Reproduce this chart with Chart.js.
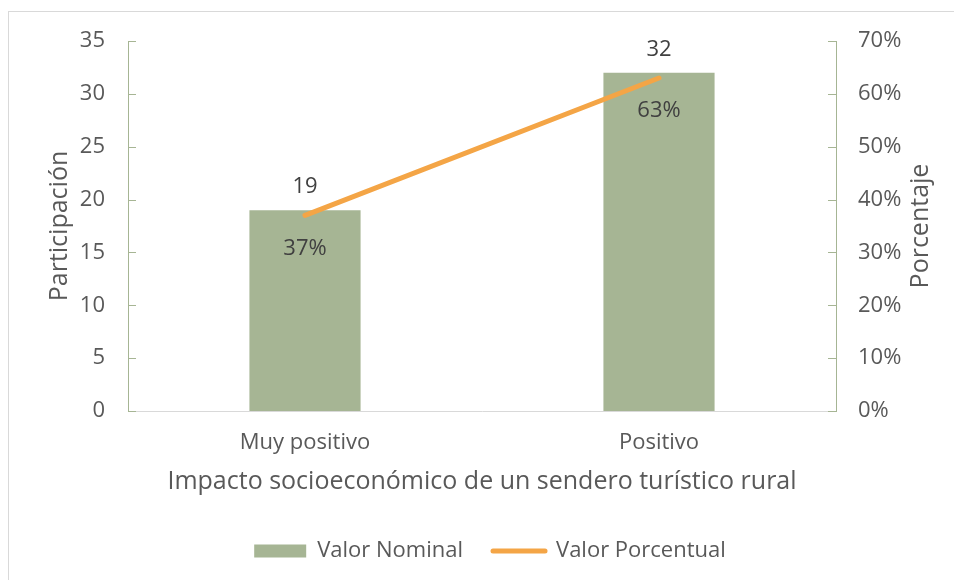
<!DOCTYPE html>
<html>
<head>
<meta charset="utf-8">
<script src="https://cdn.jsdelivr.net/npm/chart.js@4"></script>
<style>
  html, body { margin: 0; padding: 0; background: #fff; }
  #wrap { width: 954px; height: 580px; }
</style>
</head>
<body>
<div id="wrap"><canvas id="chart" width="954" height="580"></canvas></div>
<script>
// data
const categories = ["Muy positivo", "Positivo"]
const nominalValues = [19, 32]
const percentValues = [37, 63]
const leftTicks = [0, 5, 10, 15, 20, 25, 30, 35]
const rightTicks = [0, 10, 20, 30, 40, 50, 60, 70]

const GREEN = "#A6B594"
const ORANGE = "#F4A546"
const TEXT = "#595959"
const FONT = "'Open Sans', sans-serif"

// frame, inward ticks, data labels and the right axis title
const extras = {
  id: "extras",
  beforeDraw(chart) {
    const ctx = chart.ctx
    ctx.save()
    ctx.fillStyle = "#fff"
    ctx.fillRect(0, 0, chart.width, chart.height)
    ctx.strokeStyle = "#D9D9D9"
    ctx.lineWidth = 1
    ctx.strokeRect(8.5, 11.5, chart.width + 20, chart.height + 20)
    ctx.restore()
  },
  afterDatasetsDraw(chart) {
    const ctx = chart.ctx
    ctx.save()
    ctx.font = "22px " + FONT
    ctx.fillStyle = "#404040"
    ctx.textAlign = "center"
    ctx.textBaseline = "middle"
    chart.getDatasetMeta(0).data.forEach((el, i) => {
      ctx.fillText(String(nominalValues[i]), el.x, el.y - 23)
    })
    chart.getDatasetMeta(1).data.forEach((el, i) => {
      ctx.fillText(percentValues[i] + "%", el.x, el.y + 33)
    })
    ctx.restore()
  },
  afterDraw(chart) {
    const ctx = chart.ctx
    const yl = chart.scales.y
    const yr = chart.scales.y1
    ctx.save()
    ctx.strokeStyle = GREEN
    ctx.lineWidth = 1
    leftTicks.forEach((v) => {
      const py = Math.round(yl.getPixelForValue(v)) + 0.5
      ctx.beginPath()
      ctx.moveTo(yl.right, py)
      ctx.lineTo(yl.right + 8, py)
      ctx.stroke()
    })
    rightTicks.forEach((v) => {
      const py = Math.round(yr.getPixelForValue(v)) + 0.5
      ctx.beginPath()
      ctx.moveTo(yr.left - 8, py)
      ctx.lineTo(yr.left, py)
      ctx.stroke()
    })
    // right title reads bottom to top, like the left one
    ctx.font = "25px " + FONT
    ctx.fillStyle = TEXT
    ctx.textAlign = "center"
    ctx.textBaseline = "middle"
    ctx.translate(yr.left + 85, (yr.top + yr.bottom) / 2)
    ctx.rotate(-Math.PI / 2)
    ctx.fillText("Porcentaje", 0, 0)
    ctx.restore()
  },
}

new Chart(document.getElementById("chart"), {
  data: {
    labels: categories,
    datasets: [
      {
        type: "bar",
        label: "Valor Nominal",
        data: nominalValues,
        backgroundColor: GREEN,
        yAxisID: "y",
        barPercentage: 0.314,
        categoryPercentage: 1,
        order: 1,
      },
      {
        type: "line",
        label: "Valor Porcentual",
        data: percentValues,
        borderColor: ORANGE,
        backgroundColor: ORANGE,
        borderWidth: 5,
        borderCapStyle: "round",
        pointRadius: 0,
        yAxisID: "y1",
        order: 0,
      },
    ],
  },
  options: {
    responsive: false,
    animation: false,
    layout: { padding: { top: 41, bottom: 8, left: 26, right: 0 } },
    plugins: {
      tooltip: { enabled: false },
      legend: {
        position: "bottom",
        labels: {
          font: { family: FONT, size: 22 },
          color: TEXT,
          usePointStyle: true,
          pointStyleWidth: 52,
          boxHeight: 13,
          padding: 30,
          sort: (a, b) => a.datasetIndex - b.datasetIndex,
          generateLabels(chart) {
            const items = Chart.defaults.plugins.legend.labels.generateLabels(chart)
            items.forEach((it) => {
              if (it.datasetIndex === 0) {
                it.pointStyle = "rect"
                it.lineWidth = 0
              } else {
                it.pointStyle = "line"
                it.lineWidth = 5
                it.lineCap = "round"
                it.strokeStyle = ORANGE
              }
            })
            return items
          },
        },
      },
    },
    scales: {
      x: {
        grid: { display: false, drawTicks: false },
        border: { color: "#D9D9D9" },
        ticks: { font: { family: FONT, size: 22 }, color: TEXT, padding: 19 },
        title: {
          display: true,
          text: "Impacto socioeconómico de un sendero turístico rural",
          font: { family: FONT, size: 25 },
          color: TEXT,
          padding: { top: 0, bottom: 13 },
        },
        afterFit(s) { s.height = 99 },
      },
      y: {
        position: "left",
        min: 0,
        max: 35,
        grid: { display: false, drawTicks: false },
        border: { color: GREEN },
        ticks: { stepSize: 5, font: { family: FONT, size: 22 }, color: TEXT, padding: 23 },
        title: {
          display: true,
          text: "Participación",
          font: { family: FONT, size: 25 },
          color: TEXT,
          padding: { top: 19 },
        },
        afterFit(s) { s.width = 102 },
      },
      y1: {
        position: "right",
        min: 0,
        max: 70,
        grid: { display: false, drawTicks: false },
        border: { color: GREEN },
        ticks: {
          stepSize: 10,
          font: { family: FONT, size: 22 },
          color: TEXT,
          padding: 22,
          callback: (v) => v + "%",
        },
        afterFit(s) { s.width = 118 },
      },
    },
  },
  plugins: [extras],
})
</script>
</body>
</html>
